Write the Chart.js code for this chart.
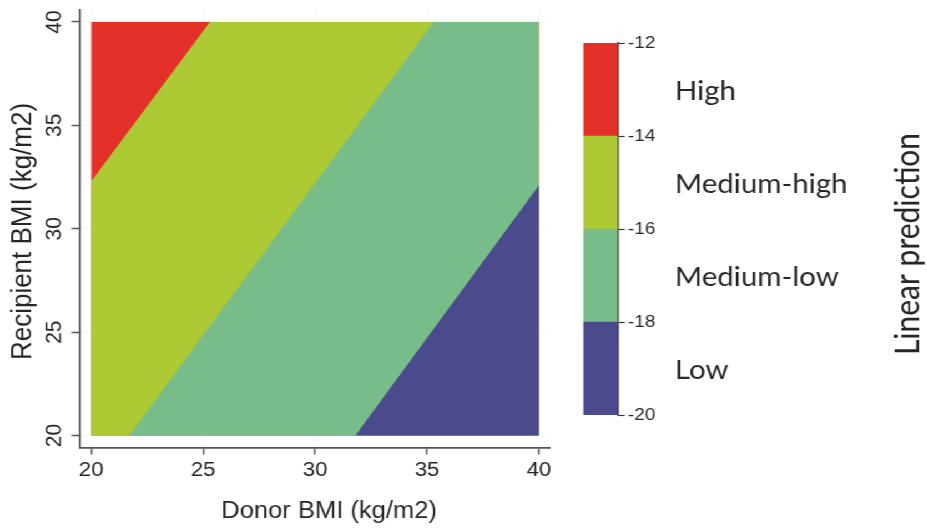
<!DOCTYPE html>
<html>
<head>
<meta charset="utf-8">
<script src="https://cdn.jsdelivr.net/npm/chart.js@4.4.1/dist/chart.umd.min.js"></script>
<style>
  html, body { margin: 0; padding: 0; background: #ffffff; overflow: hidden; }
  #stage { position: relative; width: 835px; height: 531px; transform: scaleX(1.11); transform-origin: 0 0; }
  #contour { position: absolute; left: 0; top: 0; }
  #legendbar { position: absolute; left: 510px; top: 0; }
</style>
</head>
<body>
<div id="stage">
  <canvas id="contour" width="510" height="531"></canvas>
  <canvas id="legendbar" width="325" height="531"></canvas>
</div>
<script>
// Axis ranges and tick labels
const donorRange = [20, 40];
const recipientRange = [20, 40];
const donorTicks = [20, 25, 30, 35, 40];
const recipientTicks = [20, 25, 30, 35, 40];

// Linear prediction bands (lower to upper bound) and their names
const levelBounds = [-20, -18, -16, -14, -12];
const levelNames = ['Low', 'Medium-low', 'Medium-high', 'High'];

// Where each contour of the linear prediction crosses the plot edges
const contour18 = [{ x: 31.8, y: 20 }, { x: 40, y: 32.1 }];
const contour16 = [{ x: 21.7, y: 20 }, { x: 35.3, y: 40 }];
const contour14 = [{ x: 20, y: 32.3 }, { x: 25.3, y: 40 }];

const palette = ['#4b4a8c', '#78bd89', '#adc934', '#e3312a'];
const axisFont = 'Liberation Sans, Arial, sans-serif';
const textColor = '#262626';

// Upper edge of a band: the contour segment, padded along the plot edges
function upperEdge(contour) {
  const pts = [];
  const a = contour[0], b = contour[contour.length - 1];
  if (a.x > donorRange[0]) pts.push({ x: donorRange[0], y: recipientRange[0] });
  contour.forEach(p => pts.push({ x: p.x, y: p.y }));
  if (b.x < donorRange[1]) pts.push({ x: donorRange[1], y: recipientRange[1] });
  return pts;
}
const topEdge = [{ x: donorRange[0], y: recipientRange[1] }, { x: donorRange[1], y: recipientRange[1] }];
const bandEdges = [upperEdge(contour18), upperEdge(contour16), upperEdge(contour14), topEdge];

// Each band is filled from its upper edge down to the bottom of the plot;
// lower bands are painted over higher ones.
const bandDatasets = bandEdges.map((edge, i) => ({
  label: levelNames[i],
  data: edge,
  showLine: true,
  borderWidth: 0,
  pointRadius: 0,
  backgroundColor: palette[i],
  fill: { value: recipientRange[0] }
}));

const contourLabels = {
  id: 'contourLabels',
  afterDraw(chart) {
    const ctx = chart.ctx;
    const ys = chart.scales.y;
    ctx.save();
    ctx.fillStyle = textColor;
    ctx.textAlign = 'center';
    ctx.textBaseline = 'middle';
    ctx.font = '21px ' + axisFont;
    recipientTicks.forEach(v => {
      ctx.save();
      ctx.translate(49.5, ys.getPixelForValue(v));
      ctx.rotate(-Math.PI / 2);
      ctx.fillText(String(v), 0, 0);
      ctx.restore();
    });
    ctx.font = '26px ' + axisFont;
    ctx.save();
    ctx.translate(20.5, 231.5);
    ctx.rotate(-Math.PI / 2);
    ctx.fillText('Recipient BMI (kg/m2)', 0, 0);
    ctx.restore();
    ctx.font = '23px ' + axisFont;
    ctx.fillText('Donor BMI (kg/m2)', 296.5, 511.5);
    ctx.restore();
  }
};

new Chart(document.getElementById('contour'), {
  type: 'scatter',
  data: { datasets: bandDatasets },
  plugins: [contourLabels],
  options: {
    responsive: false,
    animation: false,
    events: [],
    layout: { padding: { left: 0, top: 10, right: 14.5, bottom: 0 } },
    plugins: { legend: { display: false }, tooltip: { enabled: false } },
    scales: {
      x: {
        type: 'linear',
        min: 19.465,
        max: 40.49,
        z: 1,
        afterBuildTicks: s => { s.ticks = donorTicks.map(v => ({ value: v })); },
        afterFit: s => { s.height = 83.5; },
        ticks: { font: { family: axisFont, size: 20 }, color: textColor, padding: 4, maxRotation: 0 },
        grid: { color: 'rgba(120,120,110,0.07)', tickColor: '#555', tickLength: 7, tickWidth: 1.5 },
        border: { display: true, color: '#555', width: 1.8 }
      },
      y: {
        type: 'linear',
        min: 19.42,
        max: 40.58,
        z: 1,
        afterBuildTicks: s => { s.ticks = recipientTicks.map(v => ({ value: v })); },
        afterFit: s => { s.width = 71.4; },
        ticks: { display: false },
        grid: { color: 'rgba(120,120,110,0.07)', tickColor: '#555', tickLength: 7, tickWidth: 1.5 },
        border: { display: true, color: '#555', width: 1.8 }
      }
    }
  }
});

// Colour key
const keyLabels = {
  id: 'keyLabels',
  afterDraw(chart) {
    const ctx = chart.ctx;
    const ys = chart.scales.y;
    ctx.save();
    ctx.fillStyle = textColor;
    ctx.textBaseline = 'middle';
    ctx.textAlign = 'left';
    ctx.font = '26.5px Lato, sans-serif';
    levelNames.forEach((name, i) => {
      const mid = (levelBounds[i] + levelBounds[i + 1]) / 2;
      ctx.fillText(name, 98, ys.getPixelForValue(mid) + 2);
    });
    ctx.font = '30px Lato, sans-serif';
    ctx.textAlign = 'center';
    ctx.translate(308, 244);
    ctx.rotate(-Math.PI / 2);
    ctx.fillText('Linear prediction', 0, 0);
    ctx.restore();
  }
};

new Chart(document.getElementById('legendbar'), {
  type: 'bar',
  data: {
    labels: [''],
    datasets: levelNames.map((name, i) => ({
      label: name,
      data: [[levelBounds[i], levelBounds[i + 1]]],
      backgroundColor: palette[i],
      borderWidth: 0,
      grouped: false,
      barPercentage: 1,
      categoryPercentage: 1
    }))
  },
  plugins: [keyLabels],
  options: {
    responsive: false,
    animation: false,
    events: [],
    layout: { padding: { left: 15.5, top: 43, right: 0, bottom: 116 } },
    plugins: { legend: { display: false }, tooltip: { enabled: false } },
    scales: {
      x: { display: false },
      y: {
        position: 'right',
        min: levelBounds[0],
        max: levelBounds[levelBounds.length - 1],
        afterBuildTicks: s => { s.ticks = levelBounds.map(v => ({ value: v })); },
        afterFit: s => { s.width = 278.5; },
        ticks: { font: { family: axisFont, size: 17 }, color: textColor, padding: 3 },
        grid: { drawOnChartArea: false, tickColor: '#333', tickLength: 6.3, tickWidth: 1.2 },
        border: { display: true, color: '#333', width: 1.5 }
      }
    }
  }
});
</script>
</body>
</html>
